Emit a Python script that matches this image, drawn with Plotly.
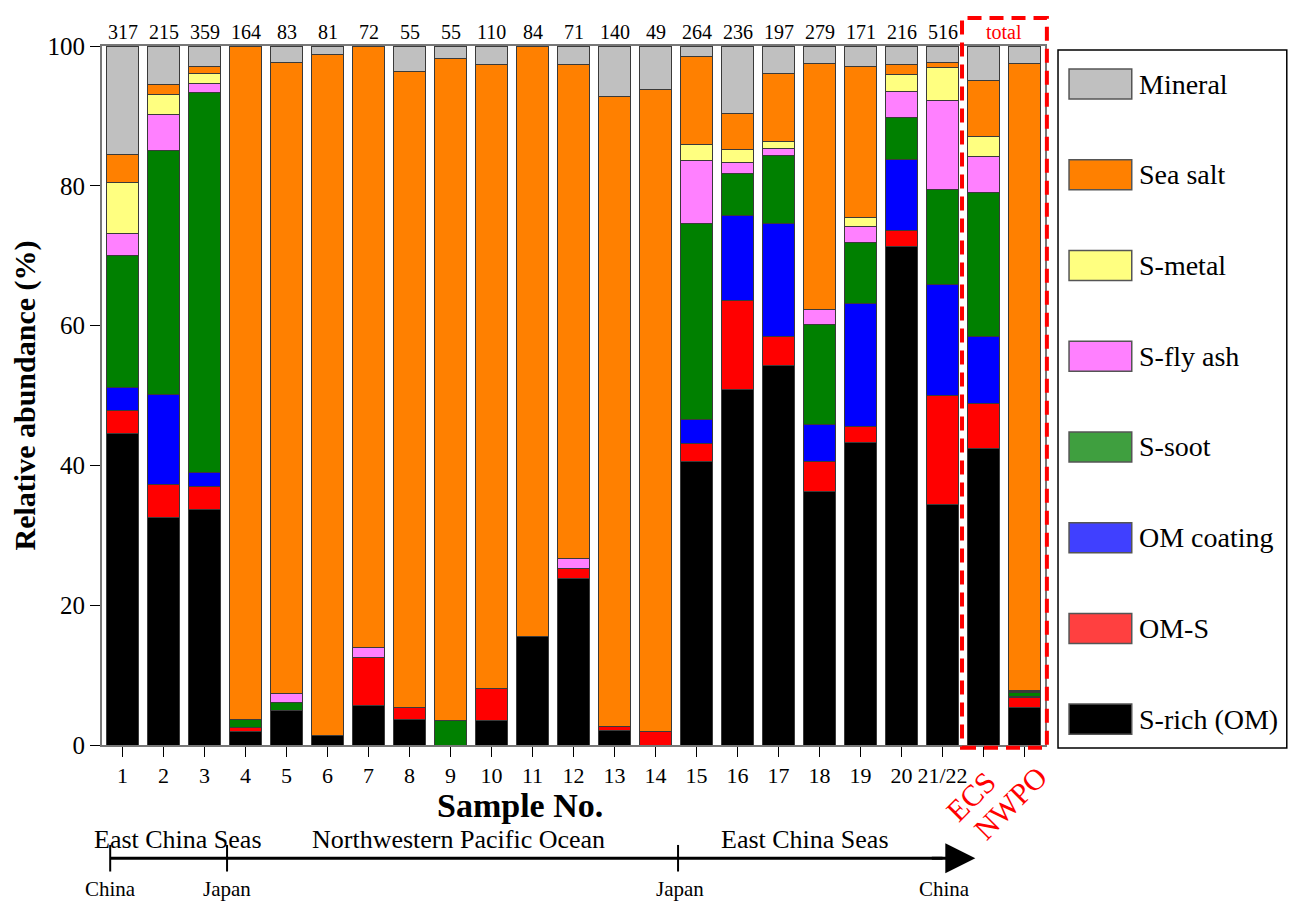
import plotly.graph_objects as go

# sample labels along the cruise, plus the two totals
samples = [str(i) for i in range(1, 21)] + ["21/22", "ECS", "NWPO"]
counts = [317, 215, 359, 164, 83, 81, 72, 55, 55, 110, 84, 71, 140, 49,
          264, 236, 197, 279, 171, 216, 516]

# relative abundance (%) per particle type, read bottom -> top of each bar
s_rich = [44.5, 32.6, 33.7, 1.9, 4.9, 1.3, 5.6, 3.6, 0, 3.5, 15.5, 23.8, 2.1, 0,
          40.6, 50.9, 54.3, 36.3, 43.3, 71.3, 34.4, 42.4, 5.3]
om_s = [3.4, 4.6, 3.3, 0.6, 0, 0, 6.9, 1.8, 0, 4.6, 0, 1.5, 0.6, 1.9,
        2.6, 12.7, 4.1, 4.2, 2.3, 2.3, 15.6, 6.4, 1.5]
om_coating = [3.3, 13.0, 2.0, 0, 0, 0, 0, 0, 0, 0, 0, 0, 0, 0,
              3.4, 12.2, 16.2, 5.4, 17.5, 10.2, 15.9, 9.6, 0.1]
s_soot = [18.8, 34.9, 54.3, 1.2, 1.2, 0, 0, 0, 3.5, 0, 0, 0, 0, 0,
          28.0, 6.0, 9.7, 14.3, 8.8, 6.0, 13.6, 20.7, 0.6]
s_fly_ash = [3.2, 5.1, 1.3, 0, 1.2, 0, 1.5, 0, 0, 0, 0, 1.4, 0, 0,
             9.0, 1.6, 1.0, 2.1, 2.3, 3.7, 12.7, 5.1, 0.2]
s_metal = [7.3, 2.8, 1.5, 0, 0, 0, 0, 0, 0, 0, 0, 0, 0, 0,
           2.3, 1.8, 1.1, 0, 1.3, 2.4, 4.7, 2.8, 0.1]
sea_salt = [4.0, 1.5, 0.9, 96.3, 90.4, 97.5, 86.0, 91.0, 94.7, 89.3, 84.5, 70.6, 90.1, 91.9,
            12.6, 5.1, 9.6, 35.2, 21.6, 1.4, 0.8, 8.1, 89.7]
mineral = [15.5, 5.5, 3.0, 0, 2.3, 1.2, 0, 3.6, 1.8, 2.6, 0, 2.7, 7.2, 6.2,
           1.5, 9.7, 4.0, 2.5, 2.9, 2.7, 2.3, 4.9, 2.5]

names = ["S-rich (OM)", "OM-S", "OM coating", "S-soot", "S-fly ash", "S-metal", "Sea salt", "Mineral"]
series = [s_rich, om_s, om_coating, s_soot, s_fly_ash, s_metal, sea_salt, mineral]
bar_colors = ["#000000", "#ff0000", "#0000ff", "#008000", "#ff80ff", "#ffff80", "#ff8000", "#c0c0c0"]
legend_colors = ["#000000", "#ff4040", "#4040ff", "#3f9f3f", "#ff80ff", "#ffff80", "#ff8000", "#c0c0c0"]

FONT = "Liberation Serif, Times New Roman, serif"

fig = go.Figure()
for name, vals, col in zip(names, series, bar_colors):
    fig.add_trace(go.Bar(
        x=samples, y=vals, name=name,
        marker=dict(color=col, line=dict(color="#3a3a3a", width=1)),
        showlegend=False
    ))

annotations = []
shapes = []

# sample counts above the bars (numeric index: "1", "2"... would be read as positions)
for i, n in enumerate(counts):
    annotations.append(dict(x=i, y=1, xref="x", yref="paper", text=str(n),
                            showarrow=False, yanchor="bottom", yshift=1,
                            font=dict(size=20, color="black", family=FONT)))
annotations.append(dict(x=21.5, y=1, xref="x", yref="paper", text="total",
                        showarrow=False, yanchor="bottom", yshift=1,
                        font=dict(size=20, color="red", family=FONT)))

# rotated red labels for the two totals
for idx, dx, dy in [(21, -13, -51), (22, -15, -58)]:
    annotations.append(dict(x=idx, y=0, xref="x", yref="paper", text=samples[idx], textangle=-45,
                            showarrow=False, yanchor="middle", xanchor="center",
                            xshift=dx, yshift=dy,
                            font=dict(size=30, color="red", family=FONT)))

# red dashed box round the totals
shapes.append(dict(type="rect", xref="paper", yref="paper",
                   x0=0.912, x1=1.002, y0=-0.004, y1=1.04,
                   line=dict(color="red", width=4, dash="14px,8px")))

annotations.append(dict(x=9.7, y=-0.086, xref="x", yref="paper", text="<b>Sample No.</b>",
                        showarrow=False, yanchor="middle",
                        font=dict(size=34, color="black", family=FONT)))

# cruise route under the axis
route_y = -0.162
shapes.append(dict(type="line", xref="x", yref="paper", x0=-0.3, x1=20.0,
                   y0=route_y, y1=route_y, line=dict(color="black", width=3)))
annotations.append(dict(x=20.8, y=route_y, xref="x", yref="paper", ax=-45, ay=0,
                        axref="pixel", ayref="pixel", text="", showarrow=True,
                        arrowhead=2, arrowsize=2, arrowwidth=3, arrowcolor="black"))
for xp in [-0.3, 2.55, 13.55]:
    shapes.append(dict(type="line", xref="x", yref="paper", x0=xp, x1=xp,
                       y0=route_y - 0.019, y1=route_y + 0.019,
                       line=dict(color="black", width=2)))
for txt, xp in [("East China Seas", 1.35), ("Northwestern Pacific Ocean", 8.2),
                ("East China Seas", 16.65)]:
    annotations.append(dict(x=xp, y=route_y + 0.027, xref="x", yref="paper", text=txt,
                            showarrow=False, yanchor="middle",
                            font=dict(size=26, color="black", family=FONT)))
for txt, xp in [("China", -0.3), ("Japan", 2.55), ("Japan", 13.6), ("China", 20.05)]:
    annotations.append(dict(x=xp, y=route_y - 0.044, xref="x", yref="paper", text=txt,
                            showarrow=False, yanchor="middle",
                            font=dict(size=21, color="black", family=FONT)))

# legend box drawn by hand (large swatches)
shapes.append(dict(type="rect", xref="paper", yref="paper", x0=1.0138, x1=1.2564,
                   y0=-0.0043, y1=0.9943, line=dict(color="black", width=1.5)))
for i, (name, col) in enumerate(zip(names[::-1], legend_colors[::-1])):
    yc = 0.9456 - i * 0.1298
    shapes.append(dict(type="rect", xref="paper", yref="paper", x0=1.0255, x1=1.092,
                       y0=yc - 0.0215, y1=yc + 0.0215, fillcolor=col,
                       line=dict(color="#555555", width=1.5)))
    annotations.append(dict(x=1.0976, y=yc, xref="paper", yref="paper", text=name,
                            showarrow=False, xanchor="left", yanchor="middle",
                            font=dict(size=28, color="black", family=FONT)))

# page body adds an 8px margin, so the figure is 8px smaller than the window
fig.update_layout(
    barmode="stack",
    bargap=0.2,
    width=1291, height=911,
    margin=dict(l=94, r=254, t=38, b=174),
    paper_bgcolor="white", plot_bgcolor="white",
    font=dict(family=FONT, color="black"),
    annotations=annotations,
    shapes=shapes,
    xaxis=dict(
        type="category",
        tickvals=samples,
        ticktext=samples[:21] + ["", ""],
        range=[-0.5, 22.5],
        ticks="outside", ticklen=10, tickcolor="black",
        tickfont=dict(size=22, family=FONT),
        showline=True, linecolor="#777777", linewidth=2, mirror=True,
        showgrid=False, zeroline=False, automargin=False,
    ),
    yaxis=dict(
        range=[0, 100],
        tickvals=[0, 20, 40, 60, 80, 100],
        ticks="outside", ticklen=10, tickcolor="black",
        tickfont=dict(size=25, family=FONT),
        title=dict(text="<b>Relative abundance (%)</b>", font=dict(size=30, family=FONT), standoff=8),
        showline=True, linecolor="#777777", linewidth=2, mirror=True,
        showgrid=False, zeroline=False, automargin=False,
    ),
)

fig.write_html("out.html")
